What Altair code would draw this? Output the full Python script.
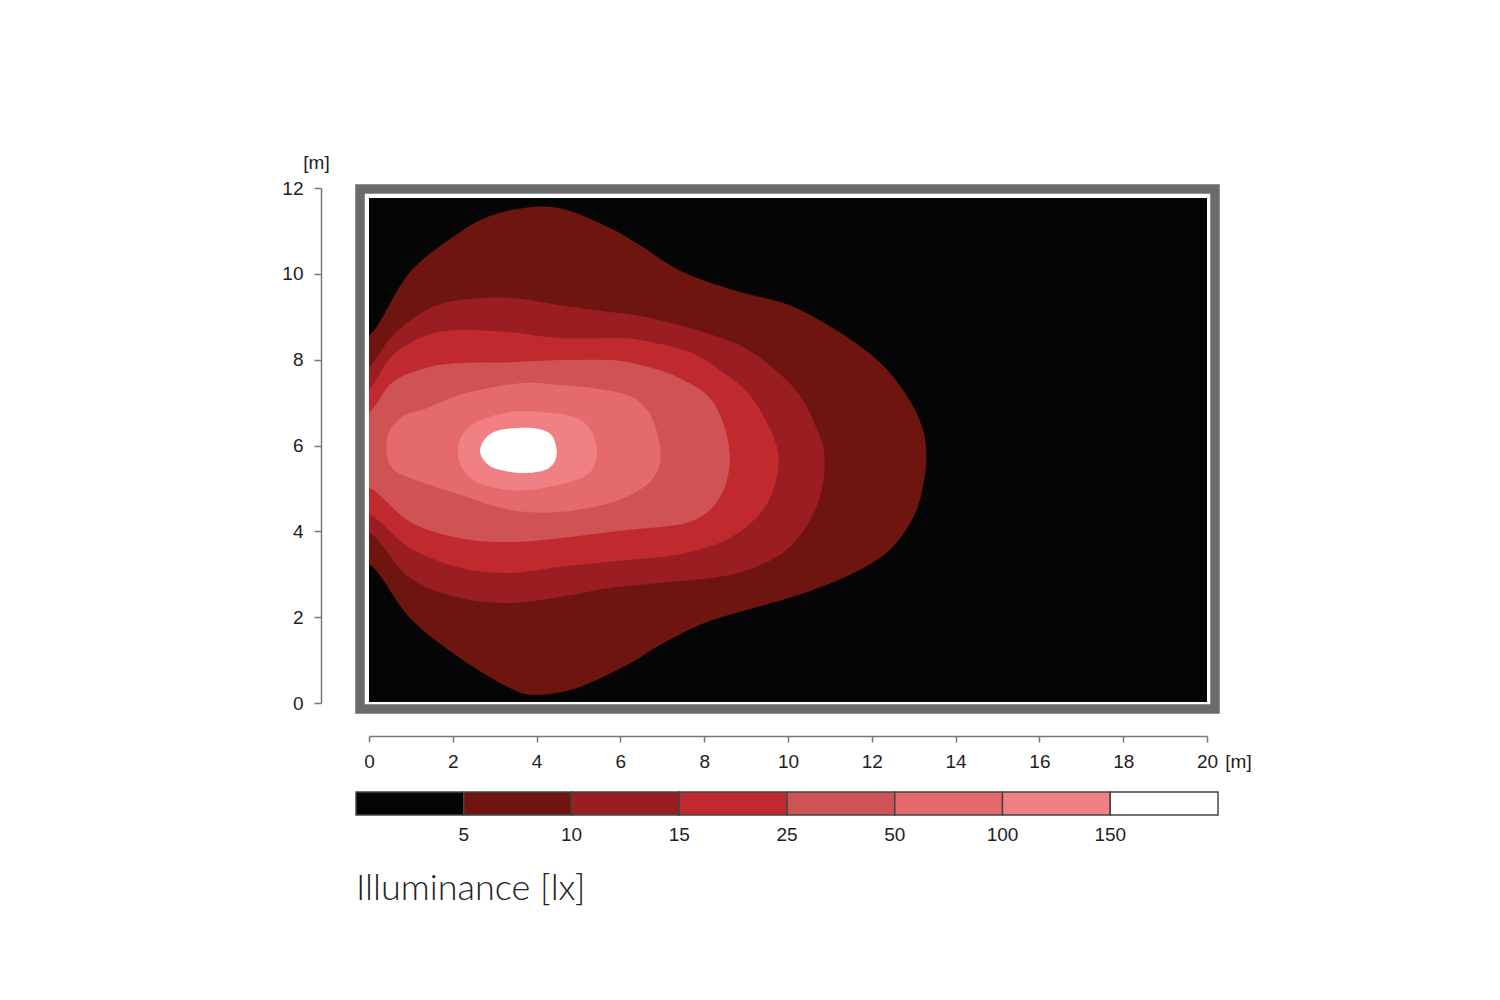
import altair as alt
import pandas as pd

# ---- legend / scale values ----
thresholds = [5, 10, 15, 25, 50, 100, 150]          # isolux levels [lx]
band_colors = ["#050505", "#6e1510", "#9a1e21", "#c0292e", "#cf5254",
               "#e46a6c", "#f08083", "#ffffff"]
x_ticks = [0, 2, 4, 6, 8, 10, 12, 14, 16, 18, 20]
y_ticks = [0, 2, 4, 6, 8, 10, 12]

# ---- isolux contour outlines [m] ----
c5_x = [-0.57, 0.02, 0.98, 2.17, 2.96, 3.91, 4.72, 5.75, 6.46, 7.49, 8.84, 10.04,
        11.23, 12.19, 12.82, 13.21, 13.30, 13.25, 13.02, 12.42, 11.47, 10.27, 8.84,
        7.89, 6.94, 6.15, 4.96, 4.00, 3.36, 2.17, 0.98, 0.02, -0.57, -0.93]
c5_y = [8.81, 8.57, 10.04, 10.97, 11.37, 11.56, 11.49, 11.07, 10.67, 10.04, 9.58, 9.27,
        8.64, 7.94, 7.18, 6.41, 5.78, 5.20, 4.38, 3.56, 2.98, 2.52, 2.12,
        1.82, 1.35, 0.88, 0.35, 0.19, 0.35, 1.05, 1.98, 3.22, 2.87, 5.89]

c10_x = [-0.57, 0.02, 0.57, 1.38, 2.17, 3.36, 4.55, 5.75, 6.46, 7.65, 8.84, 9.63,
         10.27, 10.68, 10.87, 10.80, 10.46, 9.80, 8.61, 6.94, 5.75, 4.55, 3.36,
         2.17, 0.98, 0.02, -0.57, -0.93]
c10_y = [7.41, 7.83, 8.57, 9.16, 9.39, 9.44, 9.27, 9.11, 9.02, 8.74, 8.34, 7.81,
         7.18, 6.41, 5.78, 4.96, 4.15, 3.45, 2.98, 2.80, 2.68, 2.47, 2.33,
         2.45, 2.91, 3.96, 3.68, 5.78]

c15_x = [-0.57, 0.02, 0.57, 1.38, 2.17, 3.36, 4.55, 5.75, 6.46, 7.65, 8.44, 9.08,
         9.56, 9.77, 9.70, 9.37, 8.61, 7.65, 6.94, 6.15, 4.55, 3.36, 2.17, 0.98,
         0.02, -0.57, -0.93]
c15_y = [7.06, 7.34, 8.11, 8.57, 8.69, 8.64, 8.50, 8.50, 8.46, 8.18, 7.71, 7.18,
         6.41, 5.78, 5.13, 4.45, 3.84, 3.52, 3.40, 3.33, 3.17, 3.03, 3.15, 3.61,
         4.38, 4.15, 5.78]

c25_x = [-0.57, 0.02, 0.57, 1.38, 2.17, 3.36, 4.55, 5.75, 6.46, 7.25, 8.06, 8.44,
         8.61, 8.51, 8.18, 7.65, 6.94, 6.15, 4.55, 3.36, 2.17, 0.98, 0.02, -0.57,
         -0.93]
c25_y = [6.48, 6.78, 7.48, 7.81, 7.92, 7.94, 7.99, 7.99, 7.88, 7.64, 7.18, 6.55,
         5.78, 5.08, 4.54, 4.22, 4.10, 4.03, 3.84, 3.75, 3.84, 4.22, 5.01, 4.85,
         5.78]

c50_x = [0.41, 0.50, 0.86, 1.38, 2.17, 2.96, 3.77, 4.55, 5.34, 6.15, 6.58, 6.82,
         6.96, 6.87, 6.53, 5.75, 4.55, 3.36, 2.17, 0.98, 0.55]
c50_y = [5.89, 6.36, 6.71, 6.87, 7.18, 7.36, 7.46, 7.41, 7.34, 7.18, 6.90, 6.48,
         5.85, 5.38, 5.01, 4.66, 4.45, 4.50, 4.85, 5.24, 5.48]

c100_x = [2.12, 2.22, 2.57, 3.36, 4.15, 4.96, 5.32, 5.44, 5.32, 4.96, 4.15, 3.36,
          2.57, 2.22]
c100_y = [5.85, 6.24, 6.55, 6.78, 6.78, 6.64, 6.31, 5.85, 5.43, 5.20, 5.01, 4.96,
          5.15, 5.48]

c150_x = [2.65, 2.81, 3.12, 3.60, 4.08, 4.36, 4.48, 4.41, 4.15, 3.60, 3.05, 2.77]
c150_y = [5.89, 6.20, 6.36, 6.41, 6.38, 6.24, 5.89, 5.59, 5.41, 5.36, 5.45, 5.62]

outlines = [(c5_x, c5_y), (c10_x, c10_y), (c15_x, c15_y), (c25_x, c25_y),
            (c50_x, c50_y), (c100_x, c100_y), (c150_x, c150_y)]

rows = []
for band, (lux, (xs, ys)) in enumerate(zip(thresholds, outlines), start=1):
    for i, (xv, yv) in enumerate(zip(xs, ys)):
        rows.append({"band": band, "lux": lux, "i": i, "x": xv, "y": yv})
df = pd.DataFrame(rows)

band_steps = list(range(1, len(thresholds) + 1))
label_expr = "[" + ",".join("'%d'" % t for t in thresholds) + "][datum.value - 1]"

W, H = 838, 504
LABEL_FONT = "Liberation Sans"
FS = 19

x_axis = alt.Axis(values=x_ticks, title="[m]", titleAngle=0, titleX=869, titleY=25,
                  titleAlign="center", titleBaseline="middle", titleFontSize=FS,
                  titleFontWeight="normal", titleFont=LABEL_FONT, titleColor="#222",
                  offset=34, tickSize=6, tickWidth=1.5, tickColor="#777",
                  domainColor="#777", domainWidth=1.5, labelPadding=10,
                  labelFontSize=FS, labelFont=LABEL_FONT, labelColor="#222",
                  grid=False, labelFlush=False)
y_axis = alt.Axis(values=y_ticks, title="[m]", titleAngle=0, titleX=-5, titleY=-36,
                  titleAlign="center", titleBaseline="middle", titleFontSize=FS,
                  titleFontWeight="normal", titleFont=LABEL_FONT, titleColor="#222",
                  offset=48, tickSize=7, tickWidth=1.5, tickColor="#777",
                  domainColor="#777", domainWidth=1.5, labelPadding=11,
                  labelFontSize=FS, labelFont=LABEL_FONT, labelColor="#222",
                  grid=False)

legend = alt.Legend(
    type="gradient", orient="none", direction="horizontal",
    legendX=-13, legendY=594, padding=0,
    gradientLength=862, gradientThickness=23,
    gradientStrokeColor="#444", gradientStrokeWidth=1.5,
    labelFont=LABEL_FONT, labelFontSize=FS, labelColor="#222",
    labelOffset=11, labelOverlap=False, labelExpr=label_expr,
    title="Illuminance [lx]", titleOrient="bottom", titleAnchor="start",
    titleFont="Lato", titleFontSize=36, titleFontWeight=300, titleColor="#222",
    titlePadding=27, titleBaseline="top", titleLimit=0,
)

color = alt.Color("band:Q",
                  scale=alt.Scale(type="threshold", domain=band_steps, range=band_colors),
                  legend=legend)

layers = []
for band in band_steps:
    layers.append(
        alt.Chart(df)
        .transform_filter(alt.datum.band == band)
        .mark_line(interpolate="cardinal-closed", filled=True, strokeWidth=0, clip=True)
        .encode(
            x=alt.X("x:Q", scale=alt.Scale(domain=[0, 20], nice=False, zero=False), axis=x_axis),
            y=alt.Y("y:Q", scale=alt.Scale(domain=[0, 12], range=[505, -10], nice=False, zero=False),
                    axis=y_axis),
            order=alt.Order("i:Q"),
            color=color,
        )
    )

# gray picture frame around the room
frame = (
    alt.Chart(pd.DataFrame({"f": [0]}))
    .mark_rect(filled=False, color="#6b6b6b", strokeWidth=9.5)
    .encode(x=alt.value(-9), x2=alt.value(W + 8), y=alt.value(-9), y2=alt.value(H + 7))
)

chart = (
    alt.layer(*layers, frame)
    .properties(width=W, height=H,
                padding={"left": 361, "top": 190, "right": 150, "bottom": 260},
                autosize=alt.AutoSizeParams(type="none"))
    .configure_view(fill="#050505", strokeWidth=0)
)

chart.save("out.html", embed_options={"renderer": "svg", "actions": False})
